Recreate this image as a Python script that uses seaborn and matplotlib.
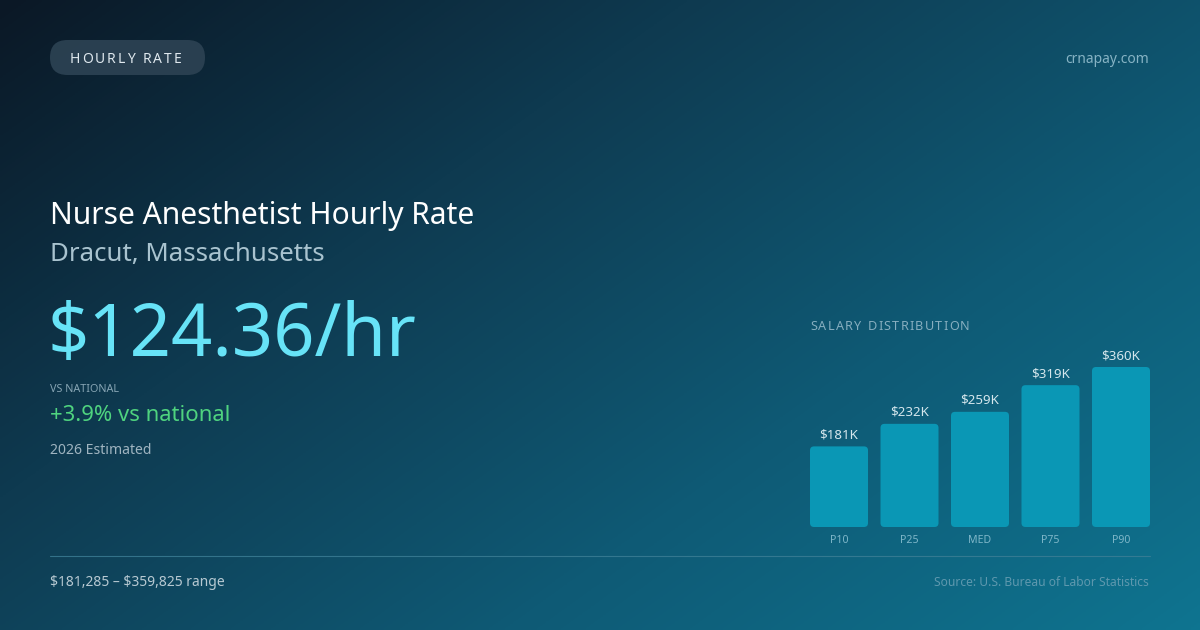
import numpy as np
import pandas as pd
import matplotlib
matplotlib.use("Agg")
import matplotlib.pyplot as plt
import seaborn as sns
from matplotlib.patches import FancyBboxPatch
from matplotlib.colors import LinearSegmentedColormap

percentiles = ["P10", "P25", "MED", "P75", "P90"]
salaries = [181285, 232000, 259000, 319000, 359825]
bar_labels = ["$181K", "$232K", "$259K", "$319K", "$360K"]

title = "Nurse Anesthetist Hourly Rate"
location = "Dracut, Massachusetts"
hourly = "$124.36/hr"
vs_national = "+3.9% vs national"
range_text = "$181,285 \u2013 $359,825 range"
source = "Source: U.S. Bureau of Labor Statistics"

sns.set_theme(style="white")
plt.rcParams["font.family"] = ["Noto Sans", "DejaVu Sans"]
plt.rcParams["text.parse_math"] = False

W, H = 1200, 630
fig = plt.figure(figsize=(12, 6.3), dpi=100)


def px(x, y):
    return x / W, 1 - y / H


def put(x, y, s, size, color, ha="left", **kw):
    fx, fy = px(x, y)
    return fig.text(fx, fy, s, fontsize=size, color=color, ha=ha, va="baseline", **kw)


def tracked(x, y, s, size, color, spacing):
    # letter-spaced text, one glyph at a time
    r = fig.canvas.get_renderer()
    cur = x
    for ch in s:
        if ch == " ":
            cur += size * 0.38 + spacing
            continue
        t = put(cur, y, ch, size, color)
        bb = t.get_window_extent(renderer=r)
        cur += bb.width + spacing


# background gradient
bg = fig.add_axes([0, 0, 1, 1])
gx, gy = np.meshgrid(np.linspace(0, 1, 400), np.linspace(0, 1, 210))
grad = 0.58 * gx + 0.42 * gy
cmap = LinearSegmentedColormap.from_list(
    "bg", ["#0b1826", "#0e3a50", "#0e5a75", "#0e7490"])
bg.imshow(grad, cmap=cmap, aspect="auto", extent=[0, 1, 1, 0], vmin=0, vmax=1)
bg.set_xlim(0, 1)
bg.set_ylim(1, 0)
bg.axis("off")

# pill
pill = FancyBboxPatch((50 / W, 1 - 75 / H), 155 / W, 35 / H,
                      boxstyle="round,pad=0,rounding_size=0.0146",
                      mutation_aspect=W / H,
                      transform=fig.transFigure, facecolor="#2b4152",
                      edgecolor="none", alpha=0.95)
fig.patches.append(pill)
tracked(70, 63, "HOURLY RATE", 10, "#dfe8ee", 1.9)

put(1149, 63, "crnapay.com", 10, "#86b3c4", ha="right")

put(50, 224, title, 21.6, "#ffffff")
put(50, 261, location, 18.6, "#a9c3cf")
put(48, 356, hourly, 52, "#67e3f7")
put(50, 392, "VS NATIONAL", 7.8, "#86a4b3")
put(50, 421, vs_national, 15.9, "#4fd37f")
put(50, 454, "2026 Estimated", 10.1, "#9fb4c0")

# divider
fig.add_artist(plt.Line2D([50 / W, 1150 / W], [1 - 556 / H] * 2,
                          transform=fig.transFigure, color="#3d7f96",
                          lw=0.8, alpha=0.8))
put(50, 586, range_text, 10, "#b7c9d2")
put(1149, 586, source, 8.65, "#5e98ae", ha="right")

tracked(810, 330, "SALARY DISTRIBUTION", 9.1, "#86aebf", 1.3)

# salary bars
df = pd.DataFrame({"pct": percentiles, "salary": salaries})
ax = fig.add_axes([810 / W, 1 - 527 / H, 340 / W, 160 / H])
sns.barplot(data=df, x="pct", y="salary", color="#0a97b5", saturation=1,
            width=0.823, ax=ax)
ax.set_xlim(-0.4115, 4.4115)
ax.set_ylim(0, max(salaries))
ax.set_facecolor("none")
ax.axis("off")

# rounded tops
ux = 1 / 70.5
uy = max(salaries) / 160
for p in list(ax.patches):
    x0, y0 = p.get_x(), p.get_y()
    w, h = p.get_width(), p.get_height()
    fc = p.get_facecolor()
    p.remove()
    ax.add_patch(FancyBboxPatch((x0, y0), w, h,
                                boxstyle=f"round,pad=0,rounding_size={4 * ux}",
                                mutation_aspect=uy / ux,
                                facecolor=fc, edgecolor="none"))

for i, (v, lab) in enumerate(zip(salaries, bar_labels)):
    ax.annotate(lab, (i, v), xytext=(0, 8), textcoords="offset pixels",
                ha="center", va="baseline", fontsize=9.6, color="#d4e6ec")
    ax.annotate(percentiles[i], (i, 0), xytext=(0, -16), textcoords="offset pixels",
                ha="center", va="baseline", fontsize=7.6, color="#7fb7c9")

fig.savefig("out.png", dpi=100)
